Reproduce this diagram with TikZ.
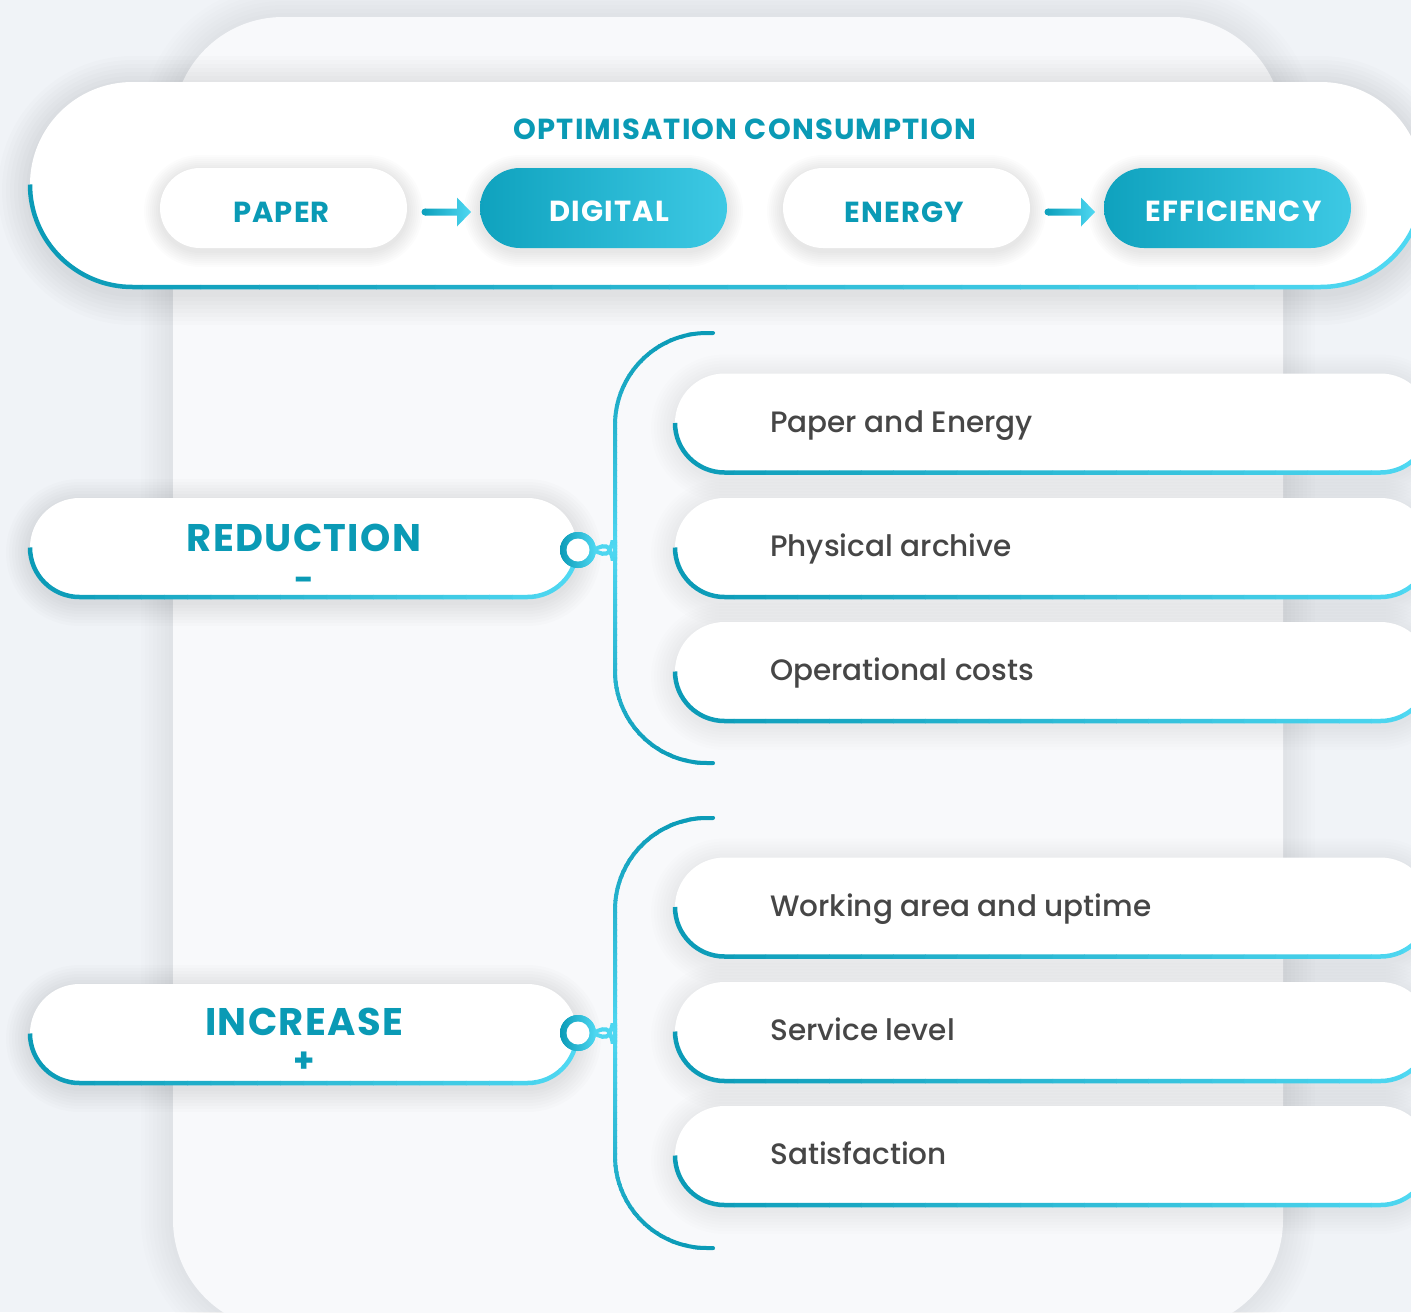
\documentclass[tikz,border=0pt]{standalone}
\usepackage{fontspec}
\usetikzlibrary{calc}
\setmainfont{Poppins}
\newcommand\headfont{\bfseries}
\IfFontExistsTF{Poppins Medium}{\newfontfamily\itemfont{Poppins Medium}}{\newcommand\itemfont{\mdseries}}
\definecolor{bg}{HTML}{F0F3F7}
\definecolor{panel}{HTML}{F8F9FB}
\definecolor{tealD}{HTML}{0B9BB7}
\definecolor{tealL}{HTML}{4FD8F2}
\definecolor{fillD}{HTML}{0FA2BE}
\definecolor{fillL}{HTML}{3DC9E4}
\definecolor{headC}{HTML}{0A9AB5}
\definecolor{itemC}{HTML}{464646}
\newcommand\softshadow[8]{%
  \foreach \k in {1,...,8}{%
    \pgfmathsetmacro\rr{#5+\k*#6}%
    \fill[black, opacity=#8, rounded corners=\rr] (#1-\k*#6, #2-\k*#6+#7) rectangle (#3+\k*#6, #4+\k*#6+#7);
  }}
\newcommand\hgrad[6]{%
  \foreach \i in {0,...,23}{%
    \pgfmathsetmacro\xa{#3+(#4-#3)/24*\i}%
    \pgfmathsetmacro\xb{#3+(#4-#3)/24*(\i+1)+0.6}%
    \pgfmathtruncatemacro\pc{100*\i/23}%
    \begin{scope}
      \clip (\xa,#5) rectangle (\xb,#6);
      \draw[line width=4.5, color=tealL!\pc!tealD, #1] #2;
    \end{scope}}}
\newcommand\vgrad[5]{%
  \foreach \i in {0,...,39}{%
    \pgfmathsetmacro\ya{#2+(#3-#2)/40*\i}%
    \pgfmathsetmacro\yb{#2+(#3-#2)/40*(\i+1)+0.6}%
    \pgfmathtruncatemacro\pc{max(0,min(100,100*(1-abs((\ya+\yb)/2-#4)/#5)))}%
    \begin{scope}
      \clip (560,\ya) rectangle (730,\yb);
      \draw[line width=4, line cap=round, rounded corners=92, color=tealL!\pc!tealD] #1;
    \end{scope}}}
\tikzset{
  smallpill/.style={rectangle, rounded corners=40, minimum width=247, minimum height=80, inner sep=0, outer sep=0},
  whitepill/.style={smallpill, fill=white},
  tealpill/.style={smallpill, left color=fillD, right color=fillL},
  bigpill/.style={rectangle, rounded corners=49.5, fill=white, minimum width=547, minimum height=99, inner sep=0, outer sep=0},
  itembox/.style={rectangle, rounded corners=49.5, fill=white, minimum width=755, minimum height=99, inner sep=0, outer sep=0, anchor=west},
  headtxt/.style={inner sep=0, text=headC, font=\headfont\fontsize{29}{34}\selectfont\addfontfeatures{LetterSpace=4}},
  whitetxt/.style={inner sep=0, text=white, font=\headfont\fontsize{29}{34}\selectfont\addfontfeatures{LetterSpace=4}},
  bigtxt/.style={inner sep=0, text=headC, font=\headfont\fontsize{38.5}{44}\selectfont\addfontfeatures{LetterSpace=3.5}},
  signtxt/.style={inner sep=0, text=headC, font=\headfont\fontsize{34}{36}\selectfont},
  itemtxt/.style={inner sep=0, text=itemC, font=\itemfont\fontsize{29.5}{34}\selectfont, anchor=base west},
  ring/.style={circle, minimum size=36, inner sep=0, outer sep=0, left color=tealD, right color=tealL},
  arrowshade/.style={left color=fillD, right color=tealL},
}
\begin{document}
\begin{tikzpicture}[x=1pt,y=-1pt]
\useasboundingbox (0,0) rectangle (1411,1312);
\clip (0,0) rectangle (1411,1312);
\fill[bg] (0,0) rectangle (1411,1312);
% panel
\softshadow{173}{17}{1283}{1330}{110}{4}{0}{0.009}
\fill[panel, rounded corners=110] (173,17) rectangle (1283,1330);
% banner
\softshadow{30}{82}{1423}{287}{102.5}{4}{6}{0.011}
\node[rectangle, rounded corners=102.5, fill=white, minimum width=1393, minimum height=205, inner sep=0, outer sep=0] (ban) at (726.5,184.5) {};
\hgrad{rounded corners=102.5}{(ban.west) -- (ban.south west) -- (ban.south east) -- (ban.east)}{25}{1430}{75}{295}
\node[headtxt, anchor=base] (title) at (745,139) {OPTIMISATION CONSUMPTION};
% banner pills
\foreach \x in {283.5,603.5,906.5,1227.5}{\softshadow{\x-123.5}{168}{\x+123.5}{248}{40}{2}{3}{0.011}}
\node[whitepill] (paper) at (283.5,208) {};
\node[tealpill] (digital) at (603.5,208) {};
\node[whitepill] (energy) at (906.5,208) {};
\node[tealpill] (eff) at (1227.5,208) {};
\node[headtxt, anchor=base] at ($(paper.center)+(-2,14)$) {PAPER};
\node[whitetxt, anchor=base] at ($(digital.center)+(6,13)$) {DIGITAL};
\node[headtxt, anchor=base] at ($(energy.center)+(-2,14)$) {ENERGY};
\node[whitetxt, anchor=base] at ($(eff.center)+(6,13)$) {EFFICIENCY};
% arrows
\foreach \a/\b in {paper/digital, energy/eff}{
  \path ($(\a.east)+(18,4)$) coordinate (s) ($(\b.west)+(-9,4)$) coordinate (e);
  \fill[fillD] (s) circle (3.5);
  \shade[arrowshade] ($(s)+(0,-3.5)$) -- ($(e)+(-14,-3.5)$) -- ($(e)+(-14,-14.5)$) -- (e) -- ($(e)+(-14,14.5)$) -- ($(e)+(-14,3.5)$) -- ($(s)+(0,3.5)$) -- cycle;
}
% left pills
\softshadow{30}{498}{577}{597}{49.5}{3}{5}{0.010}
\softshadow{30}{984}{577}{1083}{49.5}{3}{5}{0.010}
\node[bigpill] (red) at (303.5,547.5) {};
\node[bigpill] (inc) at (303.5,1033.5) {};
\hgrad{rounded corners=49.5}{(red.west) -- (red.south west) -- (red.south east) -- (red.east)}{25}{582}{490}{605}
\hgrad{rounded corners=49.5}{(inc.west) -- (inc.south west) -- (inc.south east) -- (inc.east)}{25}{582}{976}{1091}
\node[bigtxt, anchor=base] at (304,551) {REDUCTION};
\node[signtxt, anchor=base] at (304,591) {-};
\node[bigtxt, anchor=base] at (304,1035) {INCREASE};
\node[signtxt, anchor=base] at (304,1072) {+};
% items
\foreach \n/\y in {i1/423, i2/547.5, i3/671.5, i4/907, i5/1031.5, i6/1155.5}{
  \softshadow{675}{\y-49.5}{1430}{\y+49.5}{49.5}{3}{5}{0.007}
}
\foreach \n/\y in {i1/423, i2/547.5, i3/671.5, i4/907, i5/1031.5, i6/1155.5}{
  \node[itembox] (\n) at (675,\y) {};
  \hgrad{rounded corners=49.5}{(\n.west) -- (\n.south west) -- (\n.south east) -- (\n.east)}{670}{1435}{\y-10}{\y+58}
}
\node[itemtxt] (t1) at (770,432) {Paper and Energy};
\node[itemtxt] (t2) at (770,556) {Physical archive};
\node[itemtxt] (t3) at (770,680) {Operational costs};
\node[itemtxt] (t4) at (770,916) {Working area and uptime};
\node[itemtxt] (t5) at (770,1040) {Service level};
\node[itemtxt] (t6) at (770,1164) {Satisfaction};
% braces
\coordinate (rt) at (713,333);
\coordinate (rb) at (713,763);
\coordinate (it) at (713,818);
\coordinate (ib) at (713,1248);
\node[ring] (rc) at (578,550) {};
\node[ring] (ic) at (578,1033) {};
\vgrad{(rt) -- (615,333) -- (615,514) .. controls (615,535) and (607,544) .. ($(rc.center)+(15,0)$)}{320}{560}{550}{215}
\vgrad{($(rc.center)+(15,0)$) .. controls (607,556) and (615,565) .. (615,586) -- (615,763) -- (rb)}{540}{776}{550}{215}
\vgrad{(it) -- (615,818) -- (615,997) .. controls (615,1018) and (607,1027) .. ($(ic.center)+(15,0)$)}{805}{1043}{1033}{215}
\vgrad{($(ic.center)+(15,0)$) .. controls (607,1039) and (615,1048) .. (615,1069) -- (615,1248) -- (ib)}{1023}{1261}{1033}{215}
\node[ring] at (rc) {};
\node[ring] at (ic) {};
\fill[white] (rc.center) circle (11.5);
\fill[white] (ic.center) circle (11.5);
\end{tikzpicture}
\end{document}
